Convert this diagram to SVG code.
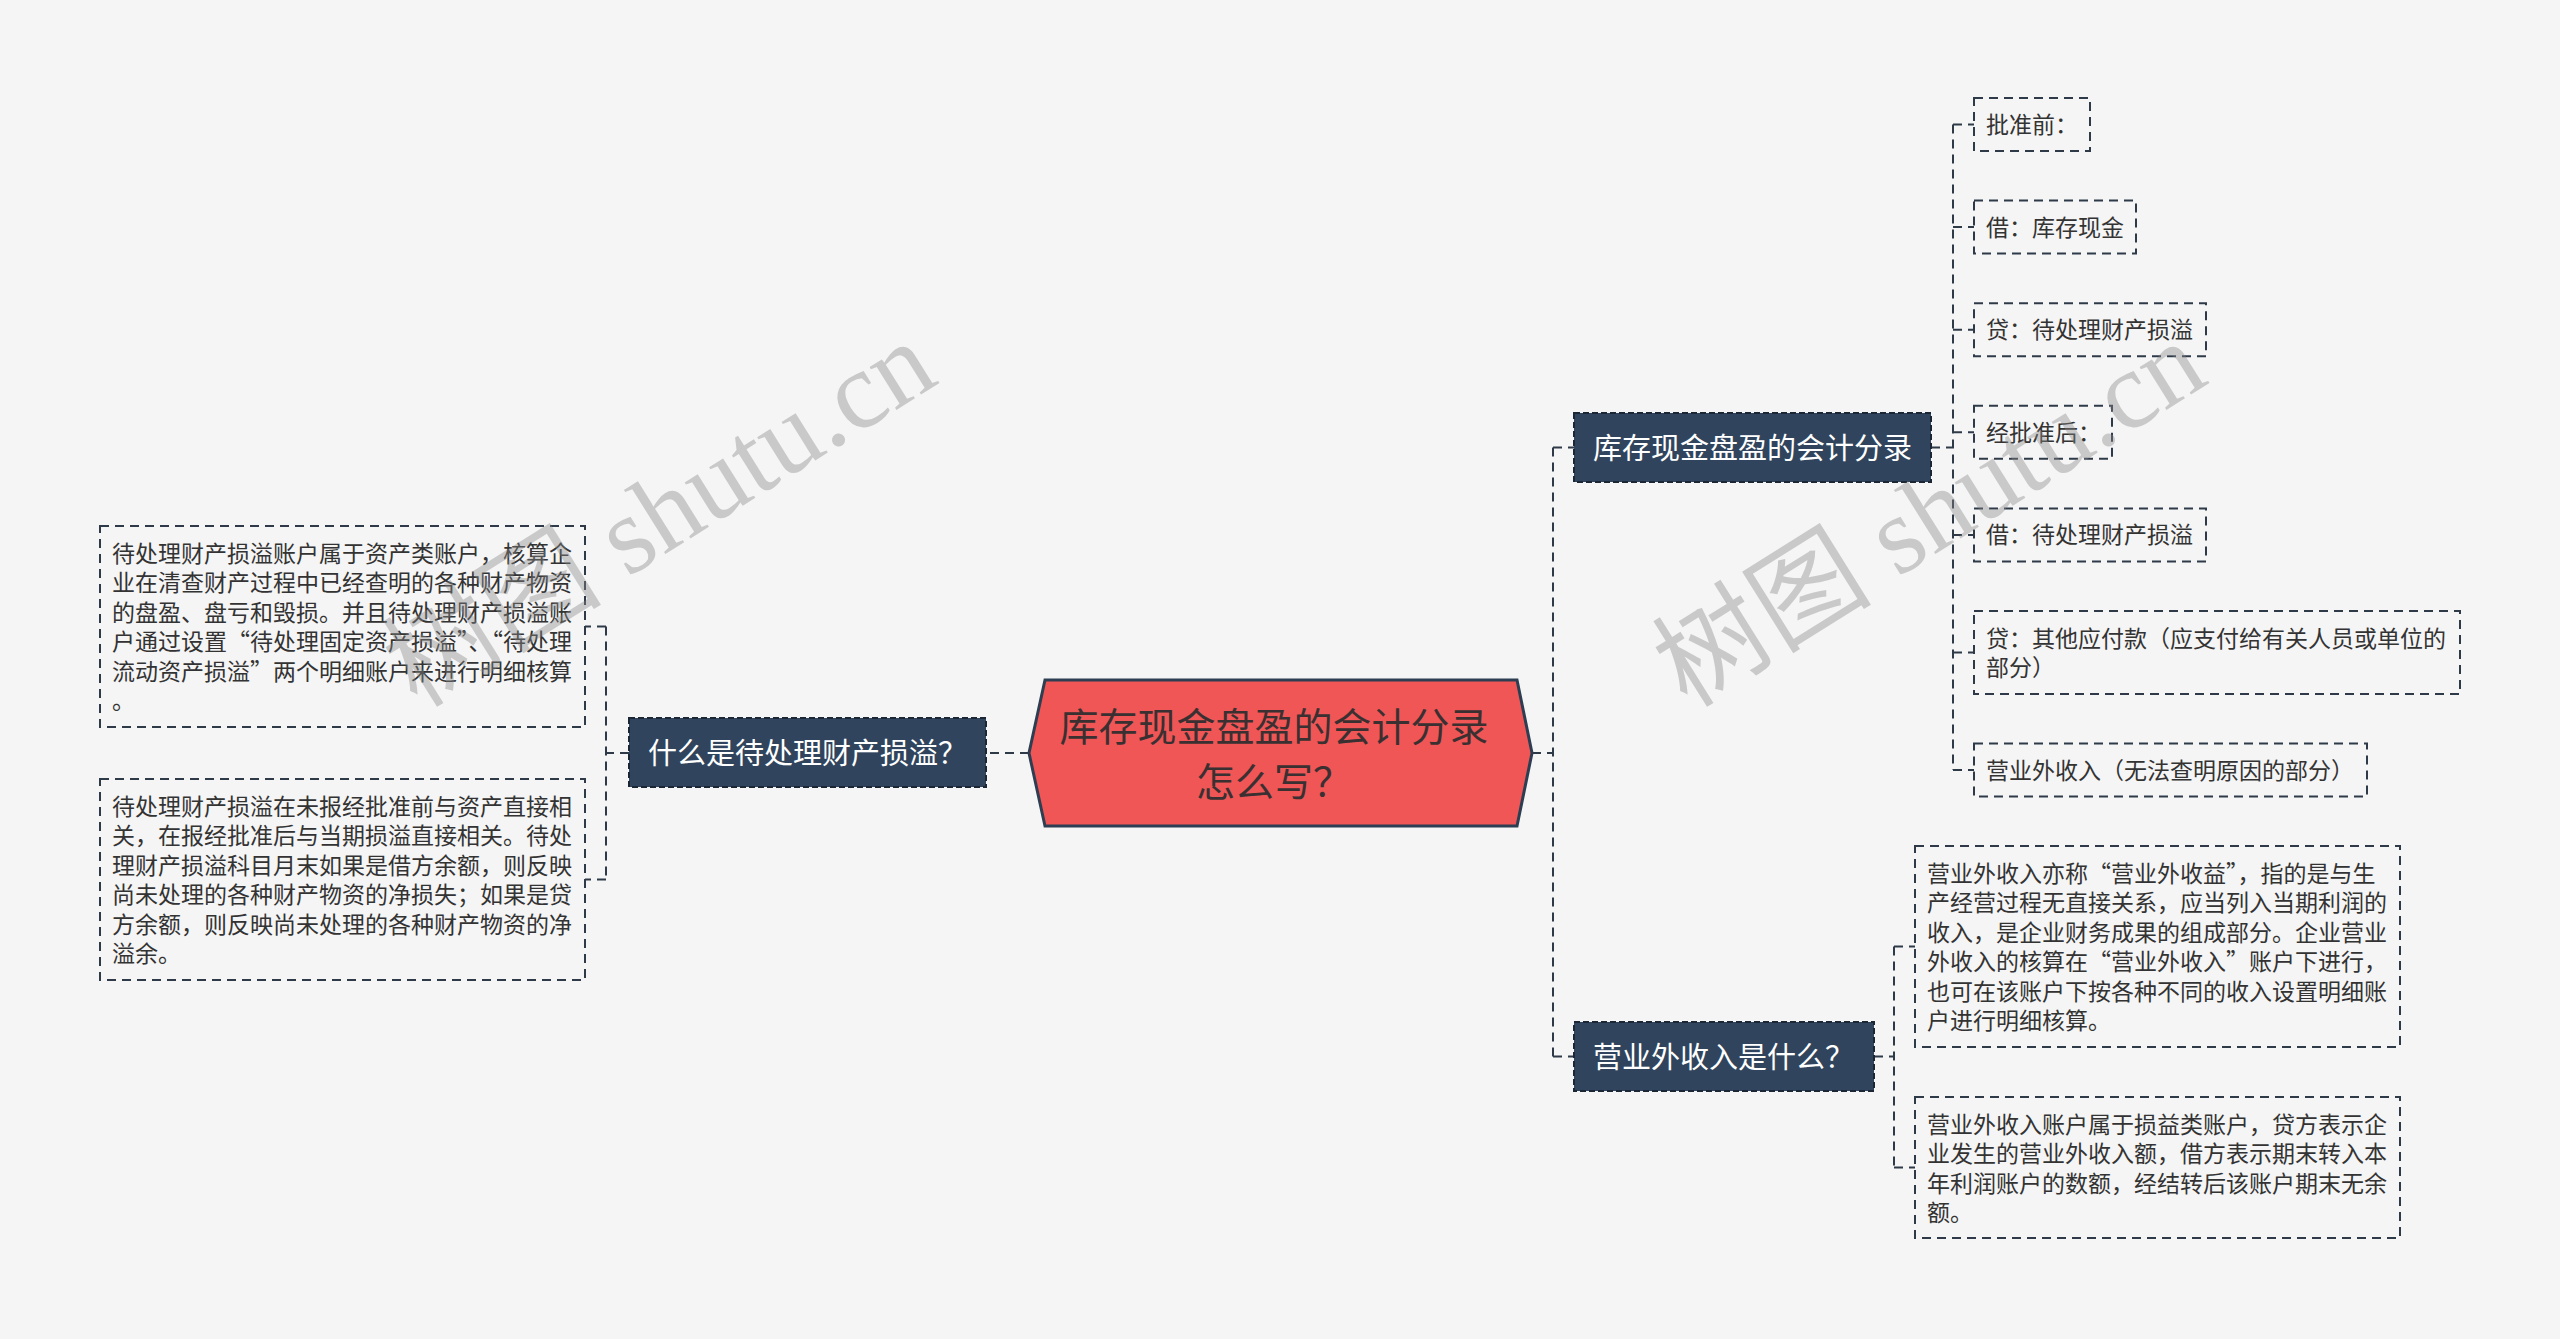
<svg xmlns="http://www.w3.org/2000/svg" width="2560" height="1339" viewBox="0 0 2560 1339">
<style>
text{font-family:"Noto Sans CJK SC","Noto Sans",sans-serif;}
.bg{fill:#f5f5f5;}
.leaf{fill:#f5f5f5;stroke:#2e3a48;stroke-width:2;stroke-dasharray:9 6;}
.lt{font-size:23px;fill:#333333;}
.sub{fill:#30455d;stroke:#1c2735;stroke-width:2;stroke-dasharray:6 3;}
.st{font-size:29px;fill:#ffffff;}
.root{fill:#f05656;stroke:#2d3e52;stroke-width:3;}
.rt{font-size:39px;fill:#3a3032;text-anchor:middle;}
.con{fill:none;stroke:#2e3a48;stroke-width:2;stroke-dasharray:9 6;}
.wm{font-family:"Liberation Serif","Noto Sans CJK SC",serif;font-size:110px;fill:#888888;fill-opacity:0.4;text-anchor:middle;}
</style>
<rect class="bg" x="0" y="0" width="2560" height="1339"/>

<g id="connectors">
<path class="con" d="M1029,753 H986"/>
<path class="con" d="M629,753 H606 M606,626.5 V879.5 M606,626.5 H585 M606,879.5 H585"/>
<path class="con" d="M1532,753 H1553 M1553,447.5 V1056.5 M1553,447.5 H1574 M1553,1056.5 H1574"/>
<path class="con" d="M1931,447.5 H1953 M1953,124.5 V770 M1953,124.5 H1974 M1953,227 H1974 M1953,329.7 H1974 M1953,432.3 H1974 M1953,534.9 H1974 M1953,652.5 H1974 M1953,770 H1974"/>
<path class="con" d="M1874,1056.5 H1894 M1894,946.5 V1167.5 M1894,946.5 H1915 M1894,1167.5 H1915"/>
</g>

<g id="root">
<polygon class="root" points="1045,680 1517,680 1532,753 1517,826 1045,826 1029,753"/>
<text class="rt" x="1274" y="741">库存现金盘盈的会计分录</text>
<text class="rt" x="1274" y="796">怎么写？</text>
</g>

<g id="node-left">
<rect class="sub" x="629" y="718" width="357" height="69"/>
<text class="st" x="648" y="763.5">什么是待处理财产损溢？</text>
</g>

<g id="leaf-left-1">
<rect class="leaf" x="100" y="526" width="485" height="201"/>
<text class="lt" x="112" y="561.5">待处理财产损溢账户属于资产类账户，核算企</text>
<text class="lt" x="112" y="591">业在清查财产过程中已经查明的各种财产物资</text>
<text class="lt" x="112" y="620.5">的盘盈、盘亏和毁损。并且待处理财产损溢账</text>
<text class="lt" x="112" y="650">户通过设置“待处理固定资产损溢”、“待处理</text>
<text class="lt" x="112" y="679.5">流动资产损溢”两个明细账户来进行明细核算</text>
<text class="lt" x="112" y="709">。</text>
</g>

<g id="leaf-left-2">
<rect class="leaf" x="100" y="779" width="485" height="201"/>
<text class="lt" x="112" y="814.5">待处理财产损溢在未报经批准前与资产直接相</text>
<text class="lt" x="112" y="844">关，在报经批准后与当期损溢直接相关。待处</text>
<text class="lt" x="112" y="873.5">理财产损溢科目月末如果是借方余额，则反映</text>
<text class="lt" x="112" y="903">尚未处理的各种财产物资的净损失；如果是贷</text>
<text class="lt" x="112" y="932.5">方余额，则反映尚未处理的各种财产物资的净</text>
<text class="lt" x="112" y="962">溢余。</text>
</g>

<g id="node-right-1">
<rect class="sub" x="1574" y="413" width="357" height="69"/>
<text class="st" x="1593" y="458.5">库存现金盘盈的会计分录</text>
</g>

<g id="node-right-2">
<rect class="sub" x="1574" y="1022" width="300" height="69"/>
<text class="st" x="1593" y="1067.5">营业外收入是什么？</text>
</g>

<g id="leaf-r1">
<rect class="leaf" x="1974" y="98" width="116" height="53"/>
<text class="lt" x="1986" y="133">批准前：</text>
</g>
<g id="leaf-r2">
<rect class="leaf" x="1974" y="200.6" width="162" height="53"/>
<text class="lt" x="1986" y="235.6">借：库存现金</text>
</g>
<g id="leaf-r3">
<rect class="leaf" x="1974" y="303.2" width="232" height="53"/>
<text class="lt" x="1986" y="338.2">贷：待处理财产损溢</text>
</g>
<g id="leaf-r4">
<rect class="leaf" x="1974" y="405.8" width="138" height="53"/>
<text class="lt" x="1986" y="440.8">经批准后：</text>
</g>
<g id="leaf-r5">
<rect class="leaf" x="1974" y="508.4" width="232" height="53"/>
<text class="lt" x="1986" y="543.4">借：待处理财产损溢</text>
</g>
<g id="leaf-r6">
<rect class="leaf" x="1974" y="611" width="486" height="83"/>
<text class="lt" x="1986" y="646.5">贷：其他应付款（应支付给有关人员或单位的</text>
<text class="lt" x="1986" y="676">部分）</text>
</g>
<g id="leaf-r7">
<rect class="leaf" x="1974" y="743.5" width="393" height="53"/>
<text class="lt" x="1986" y="778.5">营业外收入（无法查明原因的部分）</text>
</g>

<g id="leaf-r8">
<rect class="leaf" x="1915" y="846" width="485" height="201"/>
<text class="lt" x="1927" y="881.5">营业外收入亦称“营业外收益”，指的是与生</text>
<text class="lt" x="1927" y="911">产经营过程无直接关系，应当列入当期利润的</text>
<text class="lt" x="1927" y="940.5">收入，是企业财务成果的组成部分。企业营业</text>
<text class="lt" x="1927" y="970">外收入的核算在“营业外收入”账户下进行，</text>
<text class="lt" x="1927" y="999.5">也可在该账户下按各种不同的收入设置明细账</text>
<text class="lt" x="1927" y="1029">户进行明细核算。</text>
</g>

<g id="leaf-r9">
<rect class="leaf" x="1915" y="1097" width="485" height="141"/>
<text class="lt" x="1927" y="1132.5">营业外收入账户属于损益类账户，贷方表示企</text>
<text class="lt" x="1927" y="1162">业发生的营业外收入额，借方表示期末转入本</text>
<text class="lt" x="1927" y="1191.5">年利润账户的数额，经结转后该账户期末无余</text>
<text class="lt" x="1927" y="1221">额。</text>
</g>

<g id="watermarks">
<text class="wm" transform="translate(660,515) rotate(-32)" x="0" y="36">树图 shutu.cn</text>
<text class="wm" transform="translate(1930,515) rotate(-32)" x="0" y="36">树图 shutu.cn</text>
</g>
</svg>
